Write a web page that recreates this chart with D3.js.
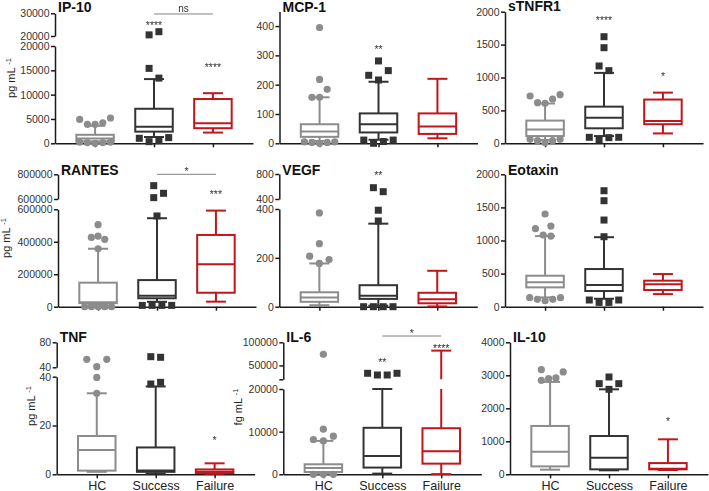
<!DOCTYPE html>
<html><head><meta charset="utf-8">
<script src="https://cdn.jsdelivr.net/npm/d3@7"></script>
<style>
html,body{margin:0;padding:0;background:#fff;}
svg{display:block;font-family:"Liberation Sans",Arial,Helvetica,sans-serif;}
.notes{opacity:0.995;will-change:opacity;}
</style></head><body>
<svg id="chart" width="709" height="491"></svg>
<script>
// ---------------- DATA ----------------
const groups = ["HC", "Success", "Failure"];
const panelNames = ["IP-10", "MCP-1", "sTNFR1", "RANTES", "VEGF", "Eotaxin", "TNF", "IL-6", "IL-10"];
const unitLabels = ["pg mL", null, null, "pg mL", null, null, "pg mL", "fg mL", null];

// box stats per group: [lower whisker, Q1, median, Q3, upper whisker]
const ip10Box = [[200, 400, 1000, 1750, 3600], [1300, 2400, 3400, 7100, 13200], [2200, 3100, 4100, 9100, 10300]];
const ip10High = [[3900, 4200, 3900, 5200, 4900], [15400, 13400, 20500, 21900], []];
const ip10Low = [[0, 150, 150, 250, 250], [340, 550, 1030, 1170], []];

const mcp1Box = [[8, 22, 40, 65, 157], [12, 37, 65, 102, 210], [17, 32, 57, 102, 220]];
const mcp1High = [[157, 218, 184, 157, 395], [216, 248, 232, 281], []];
const mcp1Low = [[0, 3, 3, 5, 5], [0, 6, 11, 11], []];

const stnfr1Box = [[50, 110, 210, 345, 605], [110, 228, 390, 557, 1070], [150, 290, 340, 665, 770]];
const stnfr1High = [[607, 673, 618, 739, 719], [1175, 1104, 1453, 1620], []];
const stnfr1Low = [[10, 40, 40, 61, 61], [51, 86, 91, 91], []];

const rantesBox = [[10000, 22000, 27000, 148000, 357000], [30000, 52000, 68000, 164000, 545000], [31000, 86000, 261000, 442000, 592000]];
const rantesHigh = [[357000, 435000, 415000, 427000, 505000], [559000, 611000, 646000, 708000], []];
const rantesLow = [[0, 0, 0, 0, 0], [8000, 8000, 8000, 8000], []];

const vegfBox = [[6, 20, 38, 59, 177], [4, 32, 45, 88, 340], [1, 14, 30, 57, 147]];
const vegfHigh = [[177, 193, 207, 258, 384], [351, 395, 581, 517], []];
const vegfLow = [[], [0, 0, 0, 0], []];

const eotaxinBox = [[140, 292, 368, 468, 1067], [120, 237, 327, 569, 1050], [190, 252, 340, 393, 493]];
const eotaxinHigh = [[1083, 1067, 1178, 1218, 1400], [1057, 1309, 1601, 1752], []];
const eotaxinLow = [[91, 111, 111, 136, 136], [65, 65, 101, 101], []];

const tnfBox = [[1, 1.5, 10, 15.7, 33.2], [0.3, 1, 1.6, 11, 36], [0.2, 0.5, 1, 2, 4.5]];
const tnfHigh = [[33.2, 39.7, 41, 52.8, 52.8], [57, 56, 37, 37.7], []];
const tnfLow = [[], [], []];

const il6Box = [[150, 540, 1500, 2350, 7835], [160, 1580, 4300, 10900, 20000], [50, 2500, 5400, 10800, 82000]];
const il6High = [[7835, 8940, 8165, 10590, 74000], [29300, 29300, 33000, 33000], []];
const il6Low = [[0, 0, 0], [], []];

const il10Box = [[140, 240, 680, 1465, 2800], [120, 150, 505, 1160, 2575], [130, 150, 170, 340, 1060]];
const il10High = [[2899, 2919, 2848, 3101, 3171], [2575, 2747, 2747, 2949], []];
const il10Low = [[], [], []];

// y tick values (lower segment / upper segment of broken axes)
const ip10Ticks = [0, 5000, 10000, 15000, 20000], ip10UpTicks = [20000, 30000];
const mcp1Ticks = [0, 100, 200, 300, 400];
const stnfr1Ticks = [0, 500, 1000, 1500, 2000];
const rantesTicks = [0, 200000, 400000, 600000], rantesUpTicks = [600000, 800000];
const vegfTicks = [0, 200, 400], vegfUpTicks = [400, 800];
const eotaxinTicks = [0, 500, 1000, 1500, 2000];
const tnfTicks = [0, 20, 40], tnfUpTicks = [40, 80];
const il6Ticks = [0, 10000, 20000], il6UpTicks = [20000, 50000, 100000], il6UpTickLabels = ["", "50000", "100000"];
const il10Ticks = [0, 1000, 2000, 3000, 4000];

// significance marks: [panel, group, value, text]
const starNotes = [
  ["IP-10", "Success", 25860, "****"], ["IP-10", "Failure", 16100, "****"],
  ["MCP-1", "Success", 330, "**"],
  ["sTNFR1", "Success", 1900, "****"], ["sTNFR1", "Failure", 1053, "*"],
  ["RANTES", "Failure", 659000, "***"],
  ["VEGF", "Success", 811, "**"],
  ["TNF", "Failure", 14.75, "*"],
  ["IL-6", "Success", 61700, "**"], ["IL-6", "Failure", 92600, "****"],
  ["IL-10", "Failure", 1688, "*"]
];
// comparison brackets: [panel, from group, to group, value, text]
const brackets = [
  ["IP-10", "Success", "Failure", 29700, "ns"],
  ["RANTES", "Success", "Failure", 800000, "*"],
  ["IL-6", "Success", "Failure", 113600, "*"]
];

const panelData = [
  {box: ip10Box, high: ip10High, low: ip10Low, ticks: ip10Ticks, upTicks: ip10UpTicks},
  {box: mcp1Box, high: mcp1High, low: mcp1Low, ticks: mcp1Ticks},
  {box: stnfr1Box, high: stnfr1High, low: stnfr1Low, ticks: stnfr1Ticks},
  {box: rantesBox, high: rantesHigh, low: rantesLow, ticks: rantesTicks, upTicks: rantesUpTicks},
  {box: vegfBox, high: vegfHigh, low: vegfLow, ticks: vegfTicks, upTicks: vegfUpTicks},
  {box: eotaxinBox, high: eotaxinHigh, low: eotaxinLow, ticks: eotaxinTicks},
  {box: tnfBox, high: tnfHigh, low: tnfLow, ticks: tnfTicks, upTicks: tnfUpTicks},
  {box: il6Box, high: il6High, low: il6Low, ticks: il6Ticks, upTicks: il6UpTicks, upLabels: il6UpTickLabels},
  {box: il10Box, high: il10High, low: il10Low, ticks: il10Ticks}
];

// ---------------- LAYOUT ----------------
const layout = [
  {x0: 55,    base: 143.3, lowTop: 46,    lowMax: 20000,  up: [20000, 30000],   upRange: [36, 13.3],    titleY: 11.7, hcGap: 7.7, label: [12.5, 78]},
  {x0: 279.5, base: 143.3, lowTop: 11.4,  lowMax: 450,    titleY: 11.5, hcGap: 7.6},
  {x0: 505,   base: 143.3, lowTop: 11.7,  lowMax: 2000,   titleY: 11,   hcGap: 7.5},
  {x0: 58,    base: 306.7, lowTop: 209.3, lowMax: 600000, up: [600000, 800000], upRange: [199, 174.3], titleY: 175,  hcGap: 6.7, label: [7, 238]},
  {x0: 279.3, base: 306.7, lowTop: 209,   lowMax: 400,    up: [400, 800],       upRange: [199, 174],   titleY: 175,  hcGap: 9.7},
  {x0: 505,   base: 306.7, lowTop: 174.3, lowMax: 2000,   titleY: 175.3, hcGap: 7.7},
  {x0: 56.7,  base: 474.3, lowTop: 376.7, lowMax: 40,     up: [40, 80],         upRange: [367.3, 342.3], titleY: 342, hcGap: 10, label: [32.5, 406]},
  {x0: 283.3, base: 474.3, lowTop: 389,   lowMax: 20000,  up: [20000, 100000],  upRange: [379.3, 342.3], titleY: 342, hcGap: 10, label: [239, 407]},
  {x0: 510,   base: 474.3, lowTop: 342.3, lowMax: 4000,   titleY: 342, hcGap: 7.3}
];
const colors = ["#8c8c8c", "#333333", "#c0161c"];
const axisColor = "#1a1a1a";
const AXLEN = 198, BOXW = 37.5, CAPW = 20, SQ = 7, R = 3.6, SQGAP = 9.8, COLL = 9.8;

const svg = d3.select("#chart");

function swarm(vals, yf, gap) {
  const placed = [];
  const cand = [0, 1, -1, 2, -2, 3, -3, 4, -4];
  vals.forEach(v => {
    const py = yf(v);
    const slot = cand.find(s => !placed.some(p => p.slot === s && Math.abs(p.y - py) < COLL));
    placed.push({v, y: py, slot});
  });
  const parent = placed.map((_, i) => i);
  const find = i => parent[i] === i ? i : (parent[i] = find(parent[i]));
  for (let i = 0; i < placed.length; i++)
    for (let j = i + 1; j < placed.length; j++)
      if (Math.abs(placed[i].y - placed[j].y) < COLL) parent[find(i)] = find(j);
  const clusters = d3.group(placed.map((p, i) => Object.assign(p, {c: find(i)})), p => p.c);
  clusters.forEach(arr => {
    const m = d3.mean(arr, p => p.slot);
    arr.forEach(p => p.off = (p.slot - m) * gap);
  });
  return placed;
}

const scalesByName = {};

panelNames.forEach((name, pi) => {
  const L = layout[pi], P = panelData[pi];
  const g = svg.append("g");
  const x = d3.scalePoint().domain(groups).range([L.x0, L.x0 + AXLEN]).padding(0.68);
  const yLow = d3.scaleLinear().domain([0, L.lowMax]).range([L.base, L.lowTop]);
  const yUp = L.up ? d3.scaleLinear().domain(L.up).range(L.upRange) : null;
  const y = v => (yUp && v > L.lowMax) ? yUp(v) : yLow(v);
  scalesByName[name] = {x, y};

  // axes
  const fmt = d3.format("d");
  const ax = g.append("g").attr("transform", `translate(${L.x0},0)`)
    .call(d3.axisLeft(yLow).tickValues(P.ticks).tickSize(4).tickSizeOuter(0).tickPadding(1.5).tickFormat(fmt));
  const axes = [ax];
  if (yUp) {
    const labs = P.upLabels;
    const ax2 = g.append("g").attr("transform", `translate(${L.x0},0)`)
      .call(d3.axisLeft(yUp).tickValues(P.upTicks).tickSize(4).tickSizeOuter(0).tickPadding(1.5)
        .tickFormat((d, i) => labs ? labs[i] : fmt(d)));
    axes.push(ax2);
  }
  const bottomRow = pi >= 6;
  const axb = g.append("g").attr("transform", `translate(0,${L.base})`)
    .call(d3.axisBottom(x).tickSize(4).tickSizeOuter(0).tickPadding(2.5).tickFormat(bottomRow ? (d => d) : (() => "")));
  axes.push(axb);
  axes.forEach(a => {
    a.selectAll("path.domain").attr("stroke", axisColor).attr("stroke-width", 1.5);
    a.selectAll(".tick line").attr("stroke", axisColor).attr("stroke-width", 1.5);
    a.selectAll(".tick text").attr("fill", "#333").attr("font-size", 10.5)
      .attr("font-family", "'Liberation Sans', Arial, sans-serif");
  });
  axb.selectAll(".tick text").attr("font-size", 12.5).attr("fill", "#222");

  // title
  g.append("text").attr("x", L.x0 + 3).attr("y", L.titleY).attr("font-size", 14)
    .attr("font-weight", "bold").attr("fill", "#111").text(name);

  // unit label
  if (unitLabels[pi]) {
    const t = g.append("text")
      .attr("transform", `translate(${L.label[0] + 2.75},${L.label[1]}) rotate(-90)`)
      .attr("text-anchor", "middle").attr("font-size", 11).attr("fill", "#222");
    t.append("tspan").text(unitLabels[pi] + " ");
    t.append("tspan").attr("font-size", 7.5).attr("baseline-shift", "super").text("-1");
  }

  // boxes
  groups.forEach((gr, gi) => {
    const [wlo, q1, med, q3, whi] = P.box[gi];
    const cx = x(gr), col = colors[gi];
    const bg = g.append("g").attr("stroke", col).attr("stroke-width", 2).attr("fill", "none");
    const vline = (v1, v2) => {
      if (yUp && v2 > L.lowMax && v1 < L.lowMax) {
        bg.append("line").attr("x1", cx).attr("x2", cx).attr("y1", y(v1)).attr("y2", yLow(L.lowMax));
        bg.append("line").attr("x1", cx).attr("x2", cx).attr("y1", yUp(L.up[0])).attr("y2", y(v2));
      } else {
        bg.append("line").attr("x1", cx).attr("x2", cx).attr("y1", y(v1)).attr("y2", y(v2));
      }
    };
    vline(q3, whi);
    vline(wlo, q1);
    [wlo, whi].forEach(v => bg.append("line").attr("x1", cx - CAPW / 2).attr("x2", cx + CAPW / 2)
      .attr("y1", y(v)).attr("y2", y(v)));
    bg.append("rect").attr("x", cx - BOXW / 2).attr("width", BOXW)
      .attr("y", y(q3)).attr("height", y(q1) - y(q3)).attr("fill", "#fff");
    bg.append("line").attr("x1", cx - BOXW / 2).attr("x2", cx + BOXW / 2)
      .attr("y1", y(med)).attr("y2", y(med));

    // outliers
    const gap = gi === 0 ? L.hcGap : SQGAP;
    [P.high[gi], P.low[gi]].forEach(list => {
      const pts = swarm(list, y, gap);
      pts.forEach(p => {
        if (gi === 0) {
          g.append("circle").attr("cx", cx + p.off).attr("cy", p.y).attr("r", R).attr("fill", col);
        } else {
          g.append("rect").attr("x", cx + p.off - SQ / 2).attr("y", p.y - SQ / 2)
            .attr("width", SQ).attr("height", SQ).attr("fill", col);
        }
      });
    });
  });
});

// significance annotations
const notes = svg.append("g").attr("class", "notes");
const isStar = t => /^\*+$/.test(t);
starNotes.forEach(([pn, gr, v, t]) => {
  const s = scalesByName[pn], fs = 10.5;
  notes.append("text").attr("x", s.x(gr)).attr("y", s.y(v) + 0.57 * fs)
    .attr("text-anchor", "middle").attr("font-size", fs).attr("fill", "#333").text(t);
});
brackets.forEach(([pn, g1, g2, v, t]) => {
  const s = scalesByName[pn], yy = s.y(v), fs = 10.5;
  notes.append("line").attr("x1", s.x(g1)).attr("x2", s.x(g2)).attr("y1", yy).attr("y2", yy)
    .attr("stroke", "#808080").attr("stroke-width", 1);
  const c = yy - 5;
  notes.append("text").attr("x", (s.x(g1) + s.x(g2)) / 2).attr("y", c + (isStar(t) ? 0.57 : 0.26) * fs)
    .attr("text-anchor", "middle").attr("font-size", isStar(t) ? fs : 10).attr("fill", "#333").text(t);
});
</script>
</body></html>
